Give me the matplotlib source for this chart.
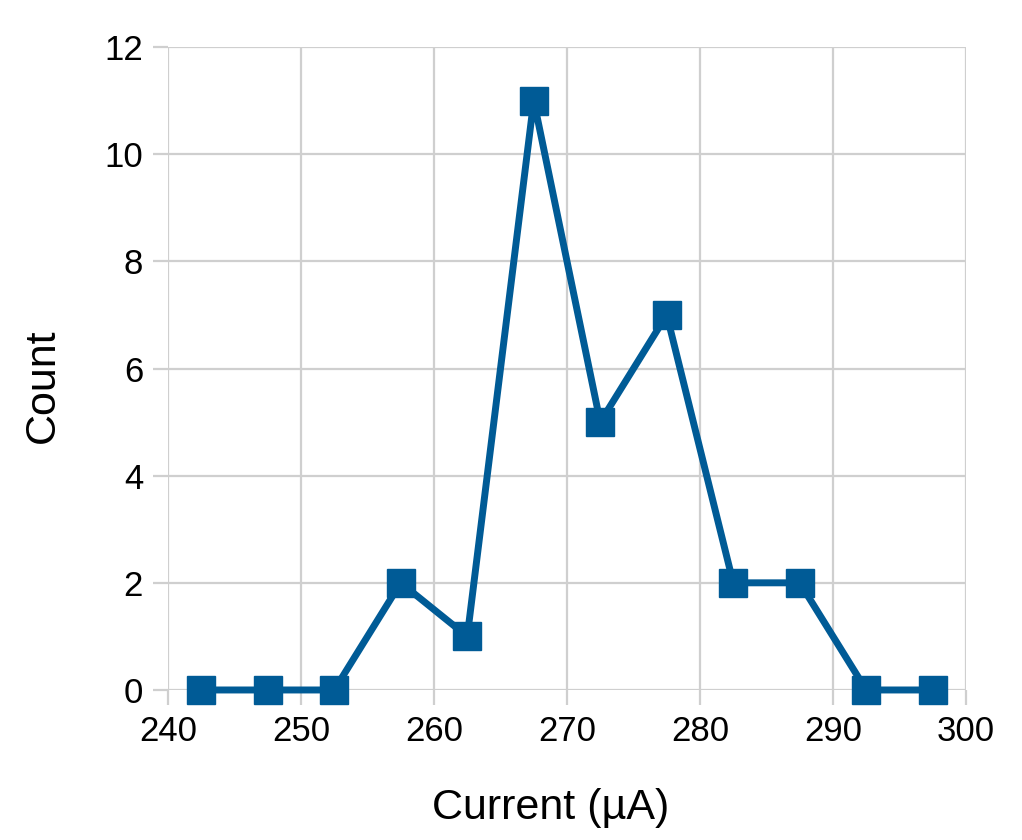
import matplotlib
matplotlib.use("Agg")
import matplotlib.pyplot as plt

plt.rcParams["font.family"] = ["Liberation Sans", "DejaVu Sans"]

# Histogram bin centres and counts
current = [242.5, 247.5, 252.5, 257.5, 262.5, 267.5, 272.5, 277.5, 282.5, 287.5, 292.5, 297.5]
counts = [0, 0, 0, 2, 1, 11, 5, 7, 2, 2, 0, 0]

x_ticks = [240, 250, 260, 270, 280, 290, 300]
y_ticks = [0, 2, 4, 6, 8, 10, 12]

fig = plt.figure(figsize=(10.22, 8.4), dpi=100)
ax = fig.add_axes([0.1644, 0.1786, 0.7808, 0.7654])

ax.plot(current, counts, color="#005b96", linewidth=5, marker="s",
        markersize=20, zorder=3, clip_on=False)

ax.set_xlim(240, 300)
ax.set_ylim(0, 12)
ax.set_xticks(x_ticks)
ax.set_yticks(y_ticks)
ax.grid(True, color="#cfcfcf", linewidth=1.6)
ax.set_axisbelow(True)
for s in ax.spines.values():
    s.set_visible(False)
ax.tick_params(length=11, width=1.6, color="#cfcfcf", labelsize=25, pad=7)

ax.set_xlabel("Current (\u00b5A)", fontsize=31, labelpad=29)
ax.set_ylabel("Count", fontsize=31, labelpad=30)
# labels sit a bit off-centre in the original
ax.xaxis.label.set_x(0.479)
ax.yaxis.label.set_y(0.473)

fig.savefig("out.png", dpi=100)
